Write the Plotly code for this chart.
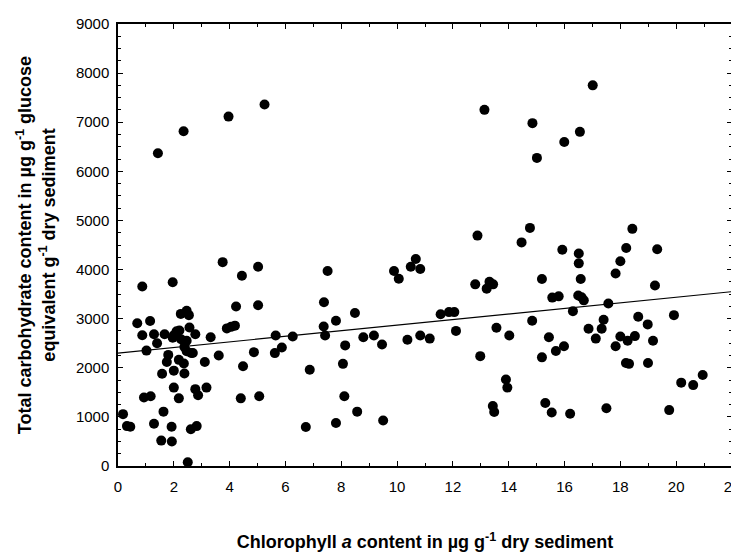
import plotly.graph_objects as go

chl_a = [0.18, 0.32, 0.44, 0.69, 0.87, 0.87, 0.93, 1.02, 1.15, 1.17, 1.29, 1.29, 1.40, 1.43, 1.55,
         1.58, 1.63, 1.67, 1.75, 1.80, 1.92, 1.93, 1.96, 1.96, 2.00, 2.00, 2.00, 2.10, 2.20, 2.18,
         2.18, 2.25, 2.26, 2.35, 2.36, 2.38, 2.38, 2.46, 2.46, 2.46, 2.50, 2.54, 2.56, 2.61, 2.62,
         2.68, 2.77, 2.77, 2.82, 2.87, 3.11, 3.17, 3.32, 3.61, 3.75, 3.90, 3.96, 4.05, 4.19, 4.23,
         4.40, 4.44, 4.48, 4.87, 5.02, 5.02, 5.06, 5.25, 5.62, 5.65, 5.87, 6.26, 6.73, 6.87, 7.37,
         7.38, 7.42, 7.51, 7.81, 7.81, 8.06, 8.11, 8.14, 8.49, 8.57, 8.79, 9.17, 9.46, 9.50, 9.89,
         10.06, 10.37, 10.49, 10.67, 10.83, 10.83, 11.17, 11.56, 11.86, 12.05, 12.11, 12.80, 12.88,
         12.98, 13.13, 13.21, 13.31, 13.43, 13.44, 13.48, 13.56, 13.90, 13.95, 14.02, 14.46, 14.76,
         14.85, 14.84, 15.01, 15.19, 15.19, 15.31, 15.44, 15.54, 15.56, 15.69, 15.79, 15.92, 15.98,
         15.99, 16.20, 16.30, 16.49, 16.51, 16.51, 16.55, 16.58, 16.61, 16.69, 16.86, 17.01, 17.12,
         17.33, 17.40, 17.50, 17.57, 17.83, 17.83, 18.00, 18.00, 18.20, 18.21, 18.26, 18.31, 18.43,
         18.52, 18.64, 18.98, 18.99, 19.17, 19.24, 19.32, 19.75, 19.92, 20.18, 20.61, 20.95]

carbohydrate = [1056, 812, 799, 2908, 3655, 2663, 1395, 2350, 2952, 1420, 2682, 862, 2500, 6369, 517,
                1879, 1107, 2682, 2117, 2262, 799, 498, 3743, 2613, 2663, 1942, 1596, 2745, 2758, 2161,
                1377, 3097, 2582, 6817, 2086, 2425, 1885, 3160, 2550, 2337, 78, 3072, 2820, 749, 2300,
                2300, 2682, 1565, 812, 1439, 2117, 1596, 2620, 2249, 4151, 2802, 7114, 2833, 2858, 3247,
                1377, 3875, 2030, 2318, 4057, 3272, 1420, 7360, 2299, 2657, 2412, 2638, 793, 1960, 2839,
                3335, 2657, 3969, 2959, 874, 2080, 1421, 2456, 3115, 1107, 2620, 2657, 2475, 925, 3969,
                3812, 2569, 4057, 4214, 4013, 2657, 2594, 3090, 3134, 3134, 2751, 3699, 4691,
                2237, 7252, 3611, 3750, 1220, 3699, 1100, 2814, 1760, 1596, 2657, 4553, 4848,
                6981, 2959, 6274, 3806, 2212, 1282, 2620, 1088, 3429, 2343, 3454, 4402, 2438,
                6596, 1063, 3153, 3473, 4327, 4126, 6804, 3806, 3436, 3373, 2795, 7751, 2594,
                2795, 2977, 1176, 3310, 3919, 2438, 4170, 2638, 2099, 4440, 2550, 2080, 4829,
                2645, 3040, 2883, 2099, 2550, 3674, 4415, 1138, 3072, 1697, 1647, 1854]

fit_x = [0, 22]
fit_y = [2300, 3550]

x_tickvals = list(range(0, 23, 2))
y_tickvals = list(range(0, 9001, 1000))

fig = go.Figure()
fig.add_trace(go.Scatter(x=fit_x, y=fit_y, mode="lines",
                         line=dict(color="black", width=1.2), showlegend=False,
                         hoverinfo="skip"))
fig.add_trace(go.Scatter(x=chl_a, y=carbohydrate, mode="markers",
                         marker=dict(color="black", size=10, line=dict(width=0)),
                         showlegend=False))

axis_common = dict(
    showgrid=False, zeroline=False, showline=True, linecolor="black", linewidth=1.5,
    mirror="allticks", ticks="inside", ticklen=5, tickwidth=1, tickcolor="black",
    tickfont=dict(family="Liberation Sans, Arial", size=15, color="black"),
    ticklabeloverflow="allow",
)

fig.update_xaxes(
    range=[0, 22], tickvals=x_tickvals, ticktext=[str(v) for v in x_tickvals],
    minor=dict(dtick=1, ticks="inside", ticklen=3, tickcolor="black", tickwidth=1),
    ticklabelstandoff=6,
    title=dict(text="<b>Chlorophyll <i>a</i> content in µg g<sup>-1</sup> dry sediment</b>",
               font=dict(family="Liberation Sans, Arial", size=18, color="black"),
               standoff=42),
    **axis_common,
)
fig.update_yaxes(
    range=[0, 9000], tickvals=y_tickvals, ticktext=[str(v) for v in y_tickvals],
    minor=dict(dtick=250, ticks="inside", ticklen=3, tickcolor="black", tickwidth=1),
    ticklabelstandoff=4,
    title=dict(text="<b>Total carbohydrate content in µg g<sup>-1</sup> glucose<br>equivalent g<sup>-1</sup> dry sediment</b>",
               font=dict(family="Liberation Sans, Arial", size=18, color="black"),
               standoff=16),
    **axis_common,
)

fig.update_layout(
    width=739, height=557,
    margin=dict(l=110, r=7, t=7, b=99),
    plot_bgcolor="white", paper_bgcolor="white",
    font=dict(family="Liberation Sans, Arial", color="black"),
)

fig.write_html("out.html")
